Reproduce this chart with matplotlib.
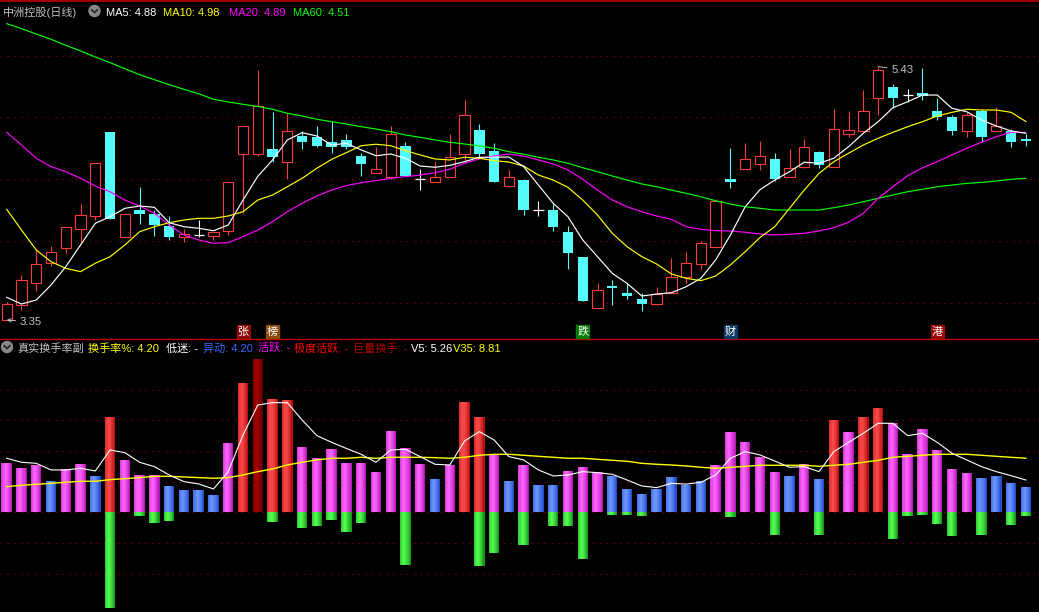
import numpy as np
import matplotlib
matplotlib.use("Agg")
import matplotlib.pyplot as plt
from matplotlib.colors import to_rgb
from matplotlib.patches import Circle, Rectangle
from matplotlib import transforms

# ---------------- data ----------------
open_ = [3.35, 3.47, 3.65, 3.82, 3.94, 4.10, 4.20, 4.89, 4.03, 4.25,
         4.22, 4.12, 4.03, 4.05, 4.04, 4.08, 4.71, 4.71, 4.75, 4.65,
         4.86, 4.85, 4.81, 4.83, 4.70, 4.56, 4.52, 4.78, 4.51, 4.48,
         4.52, 4.71, 4.91, 4.74, 4.45, 4.50, 4.25, 4.25, 4.07, 3.87,
         3.45, 3.63, 3.57, 3.52, 3.48, 3.57, 3.70, 3.81, 3.95, 4.51,
         4.59, 4.63, 4.67, 4.52, 4.61, 4.73, 4.61, 4.88, 4.90, 5.17,
         5.26, 5.20, 5.21, 5.07, 5.02, 4.90, 5.07, 4.90, 4.90, 4.84]
high = [3.50, 3.72, 3.93, 3.96, 4.11, 4.30, 4.64, 4.89, 4.23, 4.44,
        4.25, 4.20, 4.10, 4.17, 4.07, 4.48, 4.94, 5.40, 5.06, 5.05,
        4.90, 4.94, 4.98, 4.88, 4.72, 4.77, 4.94, 4.81, 4.59, 4.65,
        4.88, 5.16, 4.96, 4.80, 4.58, 4.51, 4.33, 4.30, 4.12, 3.87,
        3.65, 3.68, 3.65, 3.57, 3.62, 3.86, 3.91, 4.00, 4.34, 4.76,
        4.80, 4.82, 4.72, 4.75, 4.84, 4.74, 5.08, 5.07, 5.24, 5.43,
        5.29, 5.25, 5.42, 5.17, 5.03, 5.06, 5.08, 5.10, 4.92, 4.88]
low = [3.35, 3.43, 3.59, 3.79, 3.90, 3.99, 4.17, 4.18, 4.03, 4.14,
       4.04, 4.01, 3.99, 4.03, 4.01, 4.05, 4.23, 4.70, 4.65, 4.51,
       4.75, 4.77, 4.72, 4.75, 4.53, 4.56, 4.51, 4.53, 4.42, 4.48,
       4.52, 4.65, 4.69, 4.48, 4.44, 4.21, 4.20, 4.08, 3.77, 3.51,
       3.45, 3.47, 3.52, 3.42, 3.47, 3.57, 3.65, 3.77, 3.95, 4.43,
       4.59, 4.58, 4.49, 4.52, 4.60, 4.60, 4.61, 4.85, 4.90, 5.03,
       5.09, 5.14, 5.16, 4.99, 4.87, 4.85, 4.81, 4.90, 4.77, 4.78]
close = [3.48, 3.68, 3.81, 3.91, 4.11, 4.21, 4.64, 4.18, 4.22, 4.22,
         4.13, 4.03, 4.06, 4.05, 4.07, 4.48, 4.94, 5.11, 4.69, 4.90,
         4.81, 4.78, 4.77, 4.77, 4.63, 4.59, 4.88, 4.53, 4.51, 4.52,
         4.69, 5.03, 4.71, 4.48, 4.52, 4.25, 4.25, 4.11, 3.90, 3.51,
         3.60, 3.61, 3.55, 3.48, 3.56, 3.70, 3.82, 3.98, 4.33, 4.48,
         4.67, 4.70, 4.51, 4.60, 4.77, 4.62, 4.92, 4.91, 5.07, 5.40,
         5.17, 5.20, 5.19, 5.02, 4.90, 5.03, 4.85, 4.94, 4.81, 4.82]

ma5 = [3.536, 3.481, 3.514, 3.637, 3.788, 3.966, 4.144, 4.198, 4.267, 4.286,
       4.275, 4.149, 4.116, 4.103, 4.083, 4.130, 4.335, 4.530, 4.664, 4.828,
       4.888, 4.861, 4.787, 4.801, 4.746, 4.699, 4.713, 4.678, 4.614, 4.604,
       4.620, 4.650, 4.686, 4.686, 4.688, 4.609, 4.458, 4.308, 4.198, 4.007,
       3.870, 3.733, 3.651, 3.547, 3.563, 3.574, 3.623, 3.692, 3.843, 4.048,
       4.280, 4.420, 4.499, 4.568, 4.645, 4.637, 4.678, 4.773, 4.883, 4.978,
       5.093, 5.142, 5.197, 5.197, 5.088, 5.060, 4.992, 4.943, 4.902, 4.883]
ma10 = [4.259, 4.089, 3.925, 3.829, 3.774, 3.747, 3.816, 3.870, 3.966, 4.075,
        4.116, 4.149, 4.171, 4.185, 4.185, 4.204, 4.239, 4.335, 4.376, 4.444,
        4.513, 4.596, 4.669, 4.724, 4.781, 4.793, 4.781, 4.740, 4.705, 4.672,
        4.664, 4.686, 4.678, 4.658, 4.647, 4.614, 4.540, 4.499, 4.439, 4.335,
        4.212, 4.062, 3.952, 3.870, 3.810, 3.728, 3.692, 3.673, 3.711, 3.802,
        3.911, 4.027, 4.116, 4.267, 4.417, 4.554, 4.650, 4.719, 4.787, 4.842,
        4.891, 4.937, 4.978, 5.025, 5.055, 5.080, 5.074, 5.074, 5.055, 4.980]
ma20 = [4.891, 4.787, 4.678, 4.609, 4.568, 4.513, 4.450, 4.403, 4.335, 4.286,
        4.226, 4.130, 4.048, 4.007, 3.980, 3.985, 4.034, 4.089, 4.157, 4.239,
        4.308, 4.368, 4.417, 4.453, 4.477, 4.494, 4.513, 4.527, 4.540, 4.559,
        4.587, 4.637, 4.672, 4.696, 4.713, 4.696, 4.664, 4.631, 4.582, 4.505,
        4.417, 4.335, 4.280, 4.239, 4.204, 4.177, 4.116, 4.095, 4.083, 4.081,
        4.070, 4.056, 4.048, 4.054, 4.062, 4.081, 4.108, 4.152, 4.226, 4.349,
        4.444, 4.535, 4.600, 4.650, 4.705, 4.760, 4.809, 4.855, 4.891, 4.890]
ma60 = [5.783, 5.742, 5.698, 5.655, 5.605, 5.559, 5.509, 5.463, 5.413, 5.364,
        5.323, 5.282, 5.244, 5.208, 5.162, 5.140, 5.121, 5.103, 5.080, 5.047,
        5.025, 4.998, 4.978, 4.959, 4.937, 4.918, 4.896, 4.869, 4.850, 4.828,
        4.809, 4.795, 4.779, 4.760, 4.732, 4.711, 4.686, 4.664, 4.637, 4.600,
        4.568, 4.532, 4.499, 4.467, 4.444, 4.417, 4.390, 4.362, 4.329, 4.302,
        4.280, 4.267, 4.253, 4.253, 4.253, 4.253, 4.272, 4.294, 4.321, 4.349,
        4.376, 4.403, 4.423, 4.444, 4.458, 4.472, 4.480, 4.491, 4.505, 4.513]

turnover = [8.09, 7.22, 7.71, 5.10, 7.06, 7.87, 5.92, 15.53, 8.53, 6.08,
            6.08, 4.29, 3.64, 3.64, 2.82, 11.29, 21.07, 24.98, 18.46, 18.30,
            10.64, 8.85, 10.32, 8.04, 8.04, 6.57, 13.25, 10.48, 7.87, 5.43,
            7.71, 17.97, 15.53, 9.34, 5.10, 7.71, 4.45, 4.45, 6.73, 7.38,
            6.57, 5.92, 3.80, 2.99, 3.80, 5.76, 4.51, 5.10, 7.71, 13.09,
            11.46, 9.01, 6.57, 5.92, 7.87, 5.43, 15.04, 13.09, 15.53, 17.00,
            14.55, 9.50, 13.58, 10.15, 7.06, 6.41, 5.59, 5.92, 4.78, 4.20]
# B = 异动 (blue), M = 活跃 (magenta), R = 极度活跃 (red), D = 巨量换手 (dark red)
level = list("MMMBMMBRMM" "MBBBBMRDRR" "MMMMMMMMMB" "MRRMBMBBMM"
             "MBBBBBBBMM" "MMMBMBRMRR" "MMMMMMBBBB")
drop = [0, 0, 0, 0, 0, 0, 0, -15.64, 0, -0.54,
        -1.68, -1.36, 0, 0, 0, 0, 0, 0, -1.52, 0,
        -2.50, -2.17, -1.19, -3.15, -1.68, 0, 0, -8.58, 0, 0,
        0, 0, -8.74, -6.62, 0, -5.32, 0, -2.23, -2.23, -7.60,
        0, -0.43, -0.43, -0.60, 0, 0, 0, 0, 0, -0.76,
        0, 0, -3.69, 0, 0, -3.69, 0, 0, 0, 0,
        -4.34, -0.60, -0.43, -1.90, -3.86, 0, -3.69, 0, -2.06, -0.60]
v5 = [8.80, 8.15, 7.98, 6.90, 6.90, 7.17, 6.73, 10.15, 9.72, 8.15,
      7.44, 6.08, 5.00, 4.62, 3.80, 6.62, 12.60, 17.48, 17.86, 17.86,
      15.04, 12.49, 11.40, 10.40, 9.45, 8.15, 10.15, 10.26, 9.07, 7.82,
      7.71, 11.62, 13.14, 11.78, 9.07, 8.53, 6.90, 5.92, 6.08, 6.62,
      6.46, 6.19, 5.27, 4.29, 4.02, 4.72, 4.59, 4.89, 6.08, 8.80,
      9.88, 9.34, 8.36, 7.33, 7.44, 6.62, 9.88, 11.40, 12.87, 14.50,
      14.50, 12.49, 12.87, 11.40, 9.61, 8.53, 7.44, 6.62, 5.97, 5.26]
v35 = [4.18, 4.40, 4.56, 4.72, 4.89, 5.05, 5.05, 5.32, 5.48, 5.65,
       5.86, 5.86, 5.76, 5.65, 5.54, 5.65, 6.08, 6.62, 7.06, 7.71,
       8.15, 8.53, 8.80, 8.80, 8.96, 8.80, 8.96, 8.96, 8.96, 8.90,
       8.80, 8.96, 9.29, 9.45, 9.45, 9.29, 9.12, 8.96, 8.80, 8.80,
       8.63, 8.47, 8.31, 7.98, 7.82, 7.71, 7.55, 7.33, 7.17, 7.33,
       7.49, 7.66, 7.66, 7.66, 7.66, 7.49, 7.66, 7.82, 8.15, 8.47,
       8.96, 9.12, 9.29, 9.45, 9.45, 9.45, 9.29, 9.12, 8.96, 8.81]

price_grid = [3.487, 3.996, 4.505, 5.014, 5.520]
turn_grid = [-10, -5, 0, 5, 10, 15, 20]

marker_idx = [16, 18, 39, 49, 63]
marker_txt = ["张", "榜", "跌", "财", "港"]
marker_bg = ["#8c0a0a", "#8a4a10", "#0a7a0a", "#0f3a66", "#9a0a0a"]

stock_name = "中洲控股(日线)"
indicator_name = "真实换手率副"

# ---------------- style / layout ----------------
W, H = 1039, 612
X0, DX = 6.7, 14.77          # first candle centre and spacing in pixels
BODY_W = 0.70
RED = "#ff3c3c"
CYAN = "#54fcfc"
GRID = "#8a0000"
FONT = ["Liberation Sans", "Noto Sans CJK SC", "DejaVu Sans"]
CJK = ["Noto Sans CJK SC", "DejaVu Sans"]

o = np.array(open_); h = np.array(high); l = np.array(low); c = np.array(close)
n = len(c)
x = np.arange(n)

fig = plt.figure(figsize=(W / 100, H / 100), dpi=100, facecolor="black")


def px_axes(top, bottom):
    ax = fig.add_axes([0, 1 - bottom / H, 1, (bottom - top) / H])
    ax.set_facecolor("black")
    ax.set_xlim(-X0 / DX, (W - X0) / DX)
    for s in ax.spines.values():
        s.set_visible(False)
    ax.set_xticks([]); ax.set_yticks([])
    return ax


# ---- price panel ----
ax1 = px_axes(20, 338)
PX_PER_PRICE = 121.8
ax1.set_ylim(3.35 - 18 / PX_PER_PRICE, 3.35 + 300 / PX_PER_PRICE)
for g in price_grid:
    ax1.axhline(g, color=GRID, lw=0.8, ls=(0, (1.2, 5)), zorder=0)

up = c > o
dn = c < o
fl = c == o
ax1.vlines(x[up], l[up], h[up], color=RED, lw=0.8, zorder=2)
ax1.vlines(x[dn], l[dn], h[dn], color=CYAN, lw=0.8, zorder=2)
ax1.vlines(x[fl], l[fl], h[fl], color="white", lw=0.8, zorder=2)
ax1.bar(x[up], (c - o)[up], bottom=o[up], width=BODY_W, facecolor="black",
        edgecolor=RED, linewidth=0.8, zorder=3)
ax1.bar(x[dn], (o - c)[dn], bottom=c[dn], width=BODY_W, color=CYAN,
        linewidth=0, zorder=3)
ax1.hlines(c[fl], x[fl] - BODY_W / 2, x[fl] + BODY_W / 2, color="white",
           lw=0.9, zorder=3)

ax1.plot(x, ma60, color="#00ff00", lw=0.85, zorder=4)
ax1.plot(x, ma20, color="#ff00ff", lw=0.85, zorder=4)
ax1.plot(x, ma10, color="#ffff00", lw=0.85, zorder=4)
ax1.plot(x, ma5, color="white", lw=0.85, zorder=4)

imax = int(np.argmax(h)); imin = int(np.argmin(l))
ax1.annotate(f"{h[imax]:.2f}", xy=(imax, h[imax]), xytext=(13, -3),
             textcoords="offset pixels", color="#c0c0c0", fontsize=8.2,
             family=FONT, ha="left", va="center",
             arrowprops=dict(arrowstyle="-", color="#c0c0c0", lw=0.7,
                             shrinkA=1, shrinkB=0))
ax1.annotate(f"{l[imin]:.2f}", xy=(imin, l[imin]), xytext=(13, -2),
             textcoords="offset pixels", color="#c0c0c0", fontsize=8.2,
             family=FONT, ha="left", va="center",
             arrowprops=dict(arrowstyle="->", color="#c0c0c0", lw=0.7,
                             shrinkA=1, shrinkB=0, mutation_scale=6))

# ---- turnover panel ----
ax2 = px_axes(356, 612)
PX_PER_TURN = 1 / 0.1629
ZERO_PX = 512.3
ax2.set_ylim(-(612 - ZERO_PX) / PX_PER_TURN, (ZERO_PX - 356) / PX_PER_TURN)
for g in turn_grid:
    ax2.axhline(g, color=GRID, lw=0.8, ls=(0, (1.2, 5)), zorder=0)

PALETTE = {"M": ("#a000a0", "#ff66ff"), "B": ("#1238c0", "#6a98ff"),
           "R": ("#a00000", "#ff4a4a"), "D": ("#400000", "#a80000")}
GREEN_P = ("#007a00", "#55ff55")


def shaded_bars(ax, xs, bottoms, heights, edges, his, width, strips=10):
    edges = np.array([to_rgb(e) for e in edges])
    his = np.array([to_rgb(e) for e in his])
    sw = width / strips
    for k in range(strips):
        t = (k + 0.5) / strips
        f = np.clip(1 - abs(t - 0.38) / 0.62, 0, 1) ** 0.6
        cols = np.clip(edges + (his - edges) * f, 0, 1)
        ax.bar(xs - width / 2 + (k + 0.5) * sw, heights, bottom=bottoms,
               width=sw * 1.08, color=cols, linewidth=0, zorder=2)


tv = np.array(turnover)
shaded_bars(ax2, x, np.zeros(n), tv, [PALETTE[k][0] for k in level],
            [PALETTE[k][1] for k in level], BODY_W)
dr = np.array(drop)
m = dr < 0
shaded_bars(ax2, x[m], np.zeros(m.sum()), dr[m], [GREEN_P[0]] * m.sum(),
            [GREEN_P[1]] * m.sum(), BODY_W)
ax2.plot(x, v35, color="#ffff00", lw=1.0, zorder=4)
ax2.plot(x, v5, color="white", lw=0.8, zorder=4)

# ---- overlay in pixel coordinates: headers, frame lines, markers ----
ov = fig.add_axes([0, 0, 1, 1], zorder=10)
ov.set_xlim(0, W); ov.set_ylim(H, 0)
ov.axis("off"); ov.patch.set_alpha(0)

ov.plot([0, W], [1, 1], color="#c00000", lw=1.2)
ov.plot([0, W], [339, 339], color="#c00000", lw=1.0)


def icon(cx, cy):
    ov.add_patch(Circle((cx, cy), 5.5, color="#8a8a8a"))
    ov.plot([cx - 2.8, cx, cx + 2.8], [cy - 1.2, cy + 1.6, cy - 1.2],
            color="#2a2a2a", lw=1.3)


FS = 8.0
ov.text(3, 16, stock_name, color="#c0c0c0", fontsize=FS, family=FONT, va="baseline")
icon(94.5, 11)
top_items = [(106, f"MA5: {ma5[-1]:.2f}", "white"),
             (163, f"MA10: {ma10[-1]:.2f}", "#ffff00"),
             (229, f"MA20: {ma20[-1]:.2f}", "#ff00ff"),
             (293, f"MA60: {ma60[-1]:.2f}", "#00ff00")]
for xx, s, col in top_items:
    ov.text(xx, 16, s, color=col, fontsize=FS, family=FONT, va="baseline")

icon(7, 347)
cur = level[-1]


def lv(k):
    return f"{turnover[-1]:.2f}" if cur == k else "-"


bot_items = [(17, indicator_name, "#c0c0c0"),
             (88, f"换手率%: {turnover[-1]:.2f}", "#ffff00"),
             (166, "低迷: -", "white"),
             (203, f"异动: {lv('B')}", "#3a6cff"),
             (258, f"活跃: {lv('M')}", "#ff00ff"),
             (294, f"极度活跃: {lv('R')}", "#ff0000"),
             (353, f"巨量换手: {lv('D')}", "#b40000"),
             (411, f"V5: {v5[-1]:.2f}", "white"),
             (453, f"V35: {v35[-1]:.2f}", "#ffff00")]
for xx, s, col in bot_items:
    ov.text(xx, 351.5, s, color=col, fontsize=FS, family=FONT, va="baseline")

mtrans = transforms.blended_transform_factory(ax1.transData, ov.transData)
mw = 13 / DX
for i, s, bg in zip(marker_idx, marker_txt, marker_bg):
    ov.add_patch(Rectangle((i - mw / 2, 324.5), mw, 13, color=bg,
                           transform=mtrans, zorder=5))
    ov.text(i, 331.5, s, color="white", fontsize=8.0, family=CJK,
            ha="center", va="center", transform=mtrans, zorder=6)

fig.savefig("out.png", dpi=100, facecolor="black")
